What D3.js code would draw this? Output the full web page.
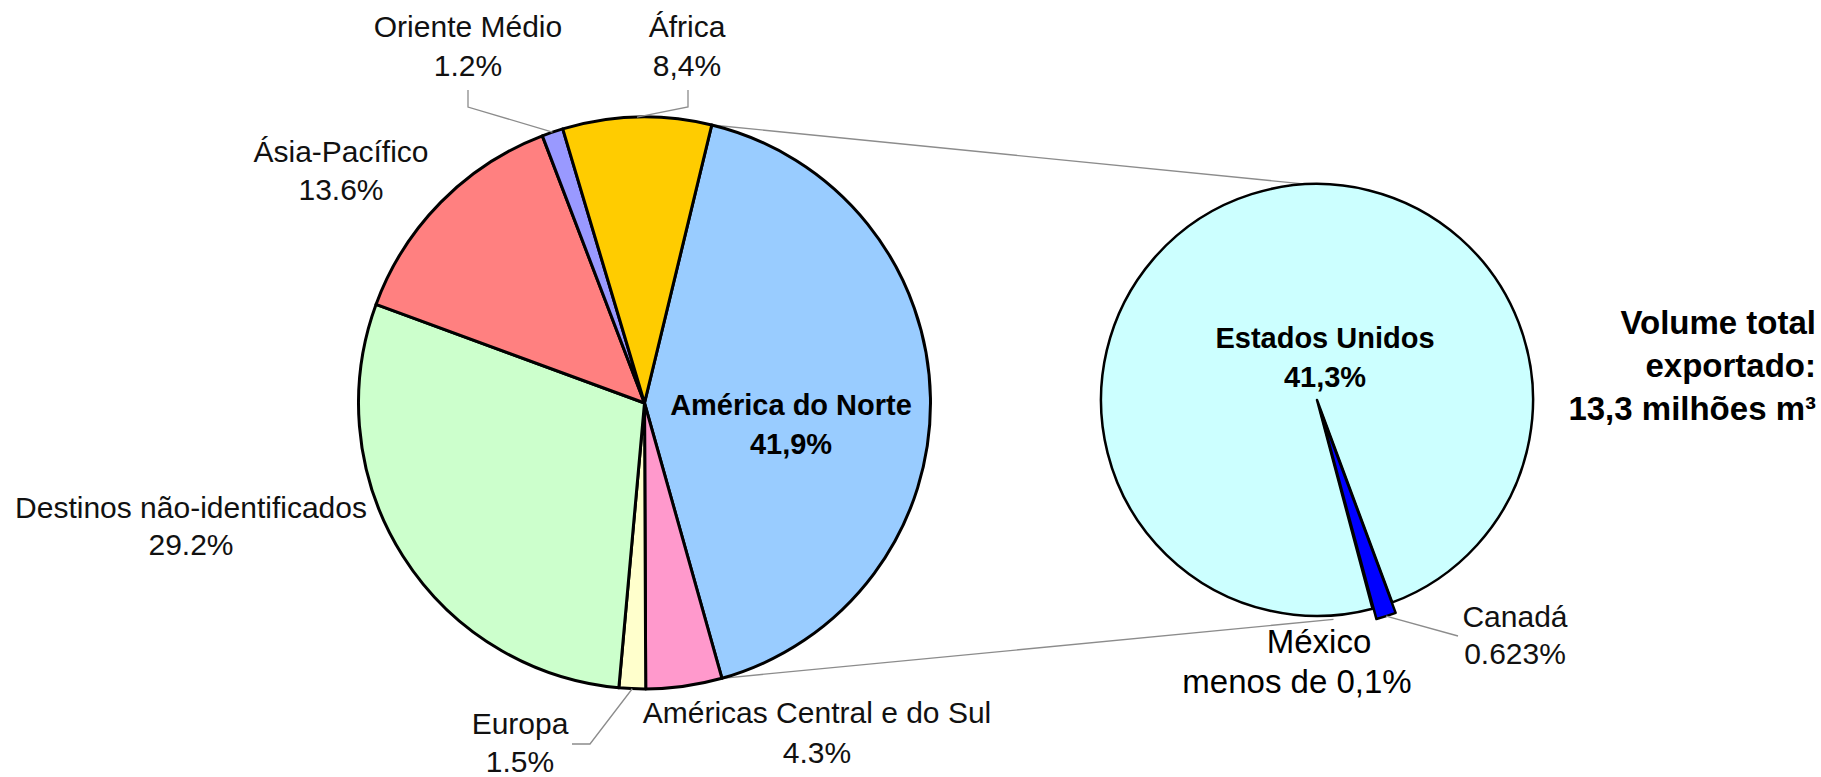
<!DOCTYPE html>
<html>
<head>
<meta charset="utf-8">
<script src="https://cdn.jsdelivr.net/npm/d3@7"></script>
<style>
    body { margin: 0; background: #fff; }
    svg { display: block; }
    .lbl { font-family: "Liberation Sans", Arial, sans-serif; font-size: 30px; fill: #111; }
    .lbl.bold { font-weight: bold; font-size: 29px; fill: #000; }
    .lbl.big { font-size: 33px; fill: #000; }
    .lbl.total { font-size: 33px; }
    .leader { fill: none; stroke: #8c8c8c; stroke-width: 1.3; }
</style>
</head>
<body>
<svg id="chart" width="1821" height="777"></svg>
<script>
// main pie: export destinations
const mainLabels = ["América do Norte", "Américas Central e do Sul", "Europa", "Destinos não-identificados", "Ásia-Pacífico", "Oriente Médio", "África"];
const mainValues = [41.9, 4.3, 1.5, 29.2, 13.6, 1.2, 8.4];
const mainPctText = ["41,9%", "4.3%", "1.5%", "29.2%", "13.6%", "1.2%", "8,4%"];
const mainColors = ["#99CCFF", "#FF99CC", "#FFFFCC", "#CCFFCC", "#FF8080", "#9999FF", "#FFCC00"];

// second pie: breakdown of América do Norte
const subLabels = ["Canadá", "México", "Estados Unidos"];
const subValues = [0.623, 0.02, 41.3];
const subPctText = ["0.623%", "menos de 0,1%", "41,3%"];
const subColors = ["#0000FF", "#000080", "#CCFFFF"];

const totalText = ["Volume total", "exportado:", "13,3 milhões m³"];

const rad = deg => deg * Math.PI / 180;
const svg = d3.select("#chart");

// layout
const main = {cx: 644.5, cy: 403, r: 286, start: 13.6};
const sub = {cx: 1317, cy: 400, r: 216, start: 159.6, explode: 11};

// label placement (center x, first baseline, line gap)
const mainLabelPos = [
    {x: 791, y: 415, gap: 39, cls: "bold"},
    {x: 817, y: 723, gap: 40},
    {x: 520, y: 734, gap: 38},
    {x: 191, y: 518, gap: 37},
    {x: 341, y: 162, gap: 38},
    {x: 468, y: 37, gap: 39},
    {x: 687, y: 37, gap: 39}
];
const subLabelPos = [
    {x: 1515, y: 627, gap: 37},
    {x: 1319, y: 653, gap: 40, x2: 1297, cls: "big"},
    {x: 1325, y: 348, gap: 39, cls: "bold"}
];

function pointAt(c, angle, r) {
    return [c.cx + r * Math.sin(angle), c.cy - r * Math.cos(angle)];
}

let mainPie = d3.pie().sort(null).value(d => d)
    .startAngle(rad(main.start)).endAngle(rad(main.start) + 2 * Math.PI);
let mainArcs = mainPie(mainValues);
let mainArc = d3.arc().innerRadius(0).outerRadius(main.r);

let subPie = d3.pie().sort(null).value(d => d)
    .startAngle(rad(sub.start)).endAngle(rad(sub.start) + 2 * Math.PI);
let subArcs = subPie(subValues);
let subArc = d3.arc().innerRadius(0).outerRadius(sub.r);

// connector lines between the two pies
let naArc = mainArcs[0];
let connectors = [
    [pointAt(main, naArc.startAngle, main.r), pointAt(sub, rad(-4.3), sub.r + 1)],
    [pointAt(main, naArc.endAngle, main.r), pointAt(sub, rad(175.7), sub.r + 4)]
];
svg.selectAll(".connector").data(connectors).enter().append("path")
    .attr("class", "leader connector")
    .attr("d", d3.line());

// main pie
let gMain = svg.append("g").attr("transform", "translate(" + main.cx + "," + main.cy + ")");
gMain.selectAll("path").data(mainArcs).enter().append("path")
    .attr("d", mainArc)
    .attr("fill", (d, i) => mainColors[i])
    .attr("stroke", "#000")
    .attr("stroke-width", 3)
    .attr("stroke-linejoin", "round");

// second pie
let gSub = svg.append("g").attr("transform", "translate(" + sub.cx + "," + sub.cy + ")");
gSub.selectAll("path").data(subArcs).enter().append("path")
    .attr("d", subArc)
    .attr("fill", (d, i) => subColors[i])
    .attr("stroke", "#000")
    .attr("stroke-width", 2.5)
    .attr("stroke-linejoin", "round")
    .attr("transform", (d, i) => {
        if (i !== 0) return null;
        let mid = (d.startAngle + d.endAngle) / 2;
        return "translate(" + (sub.explode * Math.sin(mid)) + "," + (-sub.explode * Math.cos(mid)) + ")";
    });
// put the exploded slice on top
gSub.selectAll("path").filter((d, i) => i === 0).raise();

// leader lines for small slices
let midOf = d => (d.startAngle + d.endAngle) / 2;
let leaders = [
    [[468, 90], [468, 107], pointAt(main, midOf(mainArcs[5]), main.r)],
    [[688, 90], [688, 107], pointAt(main, midOf(mainArcs[6]), main.r)],
    [[572, 744], [590, 744], pointAt(main, midOf(mainArcs[2]), main.r)],
    [pointAt(sub, midOf(subArcs[0]), sub.r + sub.explode), [1458, 636]]
];
svg.selectAll(".lead").data(leaders).enter().append("path")
    .attr("class", "leader lead")
    .attr("d", d3.line());

// labels
function drawLabel(name, pct, pos) {
    let t = svg.append("text")
        .attr("class", "lbl " + (pos.cls || ""))
        .attr("text-anchor", "middle");
    t.append("tspan").attr("x", pos.x).attr("y", pos.y).text(name);
    t.append("tspan").attr("x", pos.x2 || pos.x).attr("y", pos.y + pos.gap).text(pct);
}
mainLabels.forEach((name, i) => drawLabel(name, mainPctText[i], mainLabelPos[i]));
subLabels.forEach((name, i) => drawLabel(name, subPctText[i], subLabelPos[i]));

// total volume note
svg.append("text")
    .attr("class", "lbl bold total")
    .attr("text-anchor", "end")
    .selectAll("tspan").data(totalText).enter().append("tspan")
        .attr("x", 1816)
        .attr("y", (d, i) => 334 + i * 43)
        .text(d => d);
</script>
</body>
</html>
